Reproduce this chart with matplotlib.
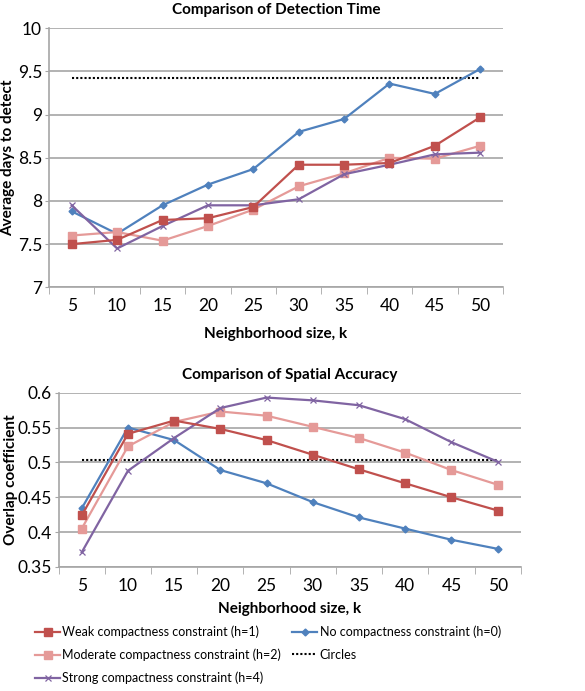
import matplotlib
matplotlib.use("Agg")
import matplotlib.pyplot as plt
from matplotlib.lines import Line2D

plt.rcParams['font.family'] = ['Lato', 'DejaVu Sans']

k = [5, 10, 15, 20, 25, 30, 35, 40, 45, 50]

# Detection time
det_weak = [7.50, 7.55, 7.78, 7.80, 7.93, 8.42, 8.42, 8.44, 8.64, 8.97]
det_none = [7.88, 7.62, 7.95, 8.19, 8.37, 8.80, 8.95, 9.36, 9.24, 9.53]
det_mod = [7.60, 7.64, 7.54, 7.71, 7.90, 8.17, 8.32, 8.50, 8.49, 8.64]
det_strong = [7.95, 7.45, 7.71, 7.95, 7.95, 8.02, 8.31, 8.42, 8.54, 8.56]
det_circles = 9.42

# Spatial accuracy
acc_weak = [0.424, 0.541, 0.560, 0.548, 0.532, 0.511, 0.490, 0.470, 0.450, 0.431]
acc_none = [0.434, 0.550, 0.532, 0.489, 0.470, 0.443, 0.421, 0.405, 0.389, 0.376]
acc_mod = [0.405, 0.523, 0.558, 0.573, 0.567, 0.551, 0.535, 0.514, 0.489, 0.468]
acc_strong = [0.371, 0.488, 0.535, 0.578, 0.593, 0.589, 0.582, 0.562, 0.529, 0.501]
acc_circles = 0.503

labels = ["Weak compactness constraint (h=1)",
          "No compactness constraint (h=0)",
          "Moderate compactness constraint (h=2)",
          "Strong compactness constraint (h=4)",
          "Circles"]

C_WEAK = "#C0504D"
C_NONE = "#4F81BD"
C_MOD = "#E59A98"
C_STRONG = "#8064A2"
GRID = "#A6A6A6"

styles = {
    "weak": dict(color=C_WEAK, marker="s", ms=5.5, lw=1.6),
    "none": dict(color=C_NONE, marker="D", ms=3.5, lw=1.6),
    "mod": dict(color=C_MOD, marker="s", ms=5.5, lw=1.6),
    "strong": dict(color=C_STRONG, marker="x", ms=4.5, mew=0.9, lw=1.6),
}

fig = plt.figure(figsize=(5.85, 6.91), dpi=100)


def style_axes(ax, ylim, yticks, ytl):
    ax.set_xlim(2.5, 52.5)
    ax.set_ylim(*ylim)
    ax.set_yticks(yticks)
    ax.set_yticklabels(ytl, fontsize=12.5)
    ax.set_xticks(k)
    ax.set_xticklabels([str(v) for v in k], fontsize=12.5)
    ax.tick_params(axis='x', which='major', length=0, pad=8)
    ax.set_xticks([2.5 + 5 * i for i in range(11)], minor=True)
    ax.tick_params(axis='x', which='minor', length=5, color=GRID, direction='out')
    ax.tick_params(axis='y', length=3, color=GRID, pad=2)
    ax.yaxis.grid(True, color=GRID, lw=1.2)
    ax.set_axisbelow(True)
    for s in ['top', 'right']:
        ax.spines[s].set_visible(False)
    for s in ['left', 'bottom']:
        ax.spines[s].set_color(GRID)
        ax.spines[s].set_linewidth(1.2)


def draw(ax, weak, none, mod, strong, circ):
    ax.plot(k, none, **styles["none"], zorder=3)
    ax.plot(k, weak, **styles["weak"], zorder=4)
    ax.plot(k, mod, **styles["mod"], zorder=3)
    ax.plot(k, strong, **styles["strong"], zorder=3)
    ax.plot(k, [circ] * len(k), color="black", ls=(0, (1, 1)), lw=1.5, zorder=2)


ax1 = fig.add_axes([0.0838, 0.5842, 0.776, 0.3748])
style_axes(ax1, (7, 10), [7, 7.5, 8, 8.5, 9, 9.5, 10],
           ["7", "7.5", "8", "8.5", "9", "9.5", "10"])
draw(ax1, det_weak, det_none, det_mod, det_strong, det_circles)
ax1.set_title("Comparison of Detection Time", fontsize=11, fontweight='bold', pad=10)
ax1.set_xlabel("Neighborhood size, k", fontsize=11, fontweight='bold', labelpad=9)
ax1.set_ylabel("Average days to detect", fontsize=11, fontweight='bold')
ax1.yaxis.set_label_coords(-0.075, 0.5)

ax2 = fig.add_axes([0.1002, 0.1795, 0.790, 0.2522])
style_axes(ax2, (0.35, 0.6), [0.35, 0.4, 0.45, 0.5, 0.55, 0.6],
           ["0.35", "0.4", "0.45", "0.5", "0.55", "0.6"])
draw(ax2, acc_weak, acc_none, acc_mod, acc_strong, acc_circles)
ax2.set_title("Comparison of Spatial Accuracy", fontsize=11, fontweight='bold', pad=10)
ax2.set_xlabel("Neighborhood size, k", fontsize=11, fontweight='bold', labelpad=6)
ax2.set_ylabel("Overlap coefficient", fontsize=11, fontweight='bold')
ax2.yaxis.set_label_coords(-0.088, 0.5)

h_weak = Line2D([], [], **styles["weak"])
h_none = Line2D([], [], **styles["none"])
h_mod = Line2D([], [], **styles["mod"])
h_strong = Line2D([], [], **styles["strong"])
h_circ = Line2D([], [], color="black", ls=(0, (1, 1)), lw=1.5)

leg_kw = dict(loc='upper left', frameon=False, fontsize=9, handlelength=2.0,
              handletextpad=0.2, labelspacing=0.85, borderaxespad=0, borderpad=0)
fig.legend([h_weak, h_mod, h_strong], [labels[0], labels[2], labels[3]],
           bbox_to_anchor=(35 / 585, 0.0948), **leg_kw)
fig.legend([h_none, h_circ], [labels[1], labels[4]],
           bbox_to_anchor=(292 / 585, 0.0948), **leg_kw)

fig.savefig("out.png", dpi=100)
